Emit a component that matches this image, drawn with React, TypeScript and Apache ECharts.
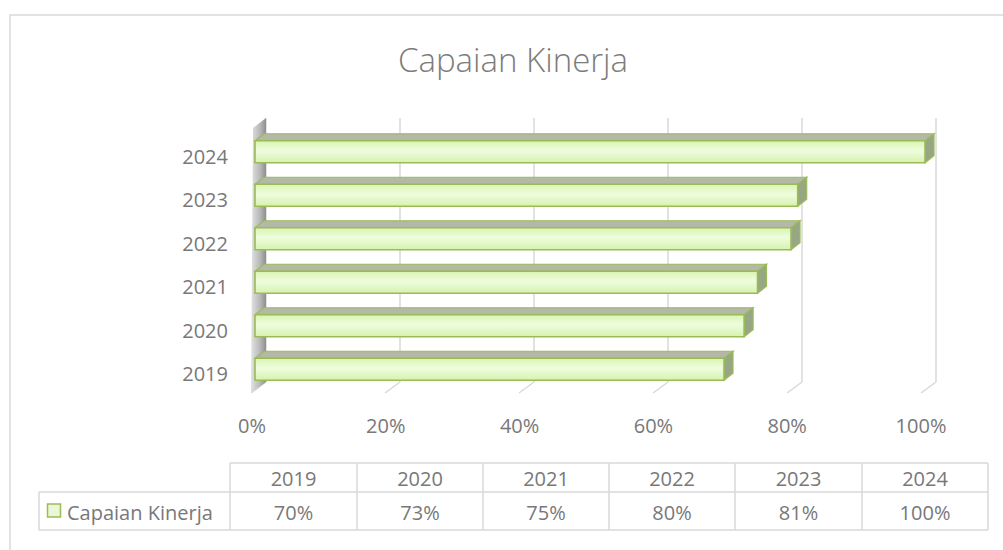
import React, { useEffect, useRef } from "react";
import * as echarts from "echarts";

const title = "Capaian Kinerja";
const seriesName = "Capaian Kinerja";
const years = ["2019", "2020", "2021", "2022", "2023", "2024"];
const values = [70, 73, 75, 80, 81, 100];
const xTicks = [0, 20, 40, 60, 80, 100];

const FONT = "'Open Sans', 'Noto Sans', sans-serif";
const TXT = "#787878";
const GRIDC = "#d9d9d9";
const GREEN = "#9bbb59";

export default function App() {
  const ref = useRef<HTMLDivElement>(null);
  useEffect(() => {
    if (!ref.current) return;
    const chart = echarts.init(ref.current, undefined, { renderer: "svg" });

    // table geometry
    const colX = [230, 357, 483, 609, 735, 862, 988];
    const rowY = [463, 492, 530];
    const tableLeft = 39;
    const g: any[] = [];
    const line = (x1: number, y1: number, x2: number, y2: number) => ({
      type: "line",
      shape: { x1, y1, x2, y2 },
      style: { stroke: GRIDC, lineWidth: 1.5 },
      silent: true,
    });
    g.push({
      type: "rect",
      shape: { x: 10, y: 15, width: 1000, height: 600 },
      style: { fill: "none", stroke: GRIDC, lineWidth: 1.5 },
      silent: true,
      z: -10,
    });
    g.push(line(colX[0], rowY[0], colX[6], rowY[0]));
    g.push(line(tableLeft, rowY[1], colX[6], rowY[1]));
    g.push(line(tableLeft, rowY[2], colX[6], rowY[2]));
    g.push(line(tableLeft, rowY[1], tableLeft, rowY[2]));
    colX.forEach((x) => g.push(line(x, rowY[0], x, rowY[2])));
    years.forEach((y, i) => {
      const cx = (colX[i] + colX[i + 1]) / 2;
      g.push({
        type: "text",
        x: cx,
        y: (rowY[0] + rowY[1]) / 2 + 1,
        style: { text: y, fill: TXT, font: `20px ${FONT}`, align: "center", verticalAlign: "middle" },
      });
      g.push({
        type: "text",
        x: cx,
        y: (rowY[1] + rowY[2]) / 2 + 1,
        style: { text: `${values[i]}%`, fill: TXT, font: `20px ${FONT}`, align: "center", verticalAlign: "middle" },
      });
    });
    g.push({
      type: "rect",
      shape: { x: 47.5, y: 504, width: 13, height: 13 },
      style: { fill: "#eaf6d6", stroke: GREEN, lineWidth: 1.5 },
    });
    g.push({
      type: "text",
      x: 67,
      y: 512,
      style: { text: seriesName, fill: TXT, font: `20px ${FONT}`, align: "left", verticalAlign: "middle" },
    });
    g.push({
      type: "text",
      x: 513,
      y: 59,
      style: { text: title, fill: "#7c7c7c", font: `300 33px ${FONT}`, align: "center", verticalAlign: "middle" },
    });

    const DX = 9, DY = -7;

    const option: any = {
      animation: false,
      grid: [
        { left: 255, right: 78, top: 130, bottom: 159 },
        { left: 266, right: 67, top: 118, bottom: 168 },
        { left: 252, right: 82, top: 380, bottom: 157 },
      ],
      xAxis: [
        { gridIndex: 0, type: "value", min: 0, max: 100, show: false },
        {
          gridIndex: 1, type: "value", min: 0, max: 100, interval: 20,
          axisLine: { show: false }, axisTick: { show: false }, axisLabel: { show: false },
          splitLine: { show: true, lineStyle: { color: GRIDC, width: 1.5 } },
        },
        {
          gridIndex: 2, type: "value", min: 0, max: 100, interval: 20,
          axisLine: { show: false }, axisTick: { show: false }, splitLine: { show: false },
          axisLabel: { formatter: "{value}%", color: TXT, fontFamily: FONT, fontSize: 20, margin: 22 },
        },
      ],
      yAxis: [
        {
          gridIndex: 0, type: "category", data: years,
          axisLine: { show: false }, axisTick: { show: false },
          axisLabel: { color: TXT, fontFamily: FONT, fontSize: 20, margin: 27, verticalAlign: "top", lineHeight: 9 },
        },
        { gridIndex: 1, type: "value", min: 0, max: 1, show: false },
        { gridIndex: 2, type: "value", min: 0, max: 1, show: false },
      ],
      graphic: g,
      series: [
        {
          type: "custom",
          xAxisIndex: 1,
          yAxisIndex: 1,
          z: 2,
          silent: true,
          data: xTicks.map((t) => [t]),
          renderItem: (params: any, api: any) => {
            const p = api.coord([api.value(0), 0]);
            return {
              type: "line",
              shape: { x1: p[0], y1: p[1], x2: p[0] - 15, y2: p[1] + 11 },
              style: { stroke: GRIDC, lineWidth: 1.5 },
            };
          },
        },
        {
          type: "custom",
          xAxisIndex: 1,
          yAxisIndex: 1,
          z: 3,
          silent: true,
          data: [[0]],
          renderItem: (params: any, api: any) => {
            const top = api.coord([0, 1]);
            const bot = api.coord([0, 0]);
            return {
              type: "polygon",
              shape: {
                points: [
                  [top[0], top[1]],
                  [bot[0], bot[1]],
                  [bot[0] - 15, bot[1] + 11],
                  [top[0] - 13, top[1] + 10],
                ],
              },
              style: {
                fill: new echarts.graphic.LinearGradient(0, 0, 1, 0, [
                  { offset: 0, color: "#e2e2e2" },
                  { offset: 0.6, color: "#b8b8b8" },
                  { offset: 1, color: "#8e8e8e" },
                ]),
              },
            };
          },
        },
        {
          name: seriesName,
          type: "custom",
          xAxisIndex: 0,
          yAxisIndex: 0,
          z: 5,
          silent: true,
          encode: { x: 0, y: 1 },
          data: values.map((v, i) => [v, i]),
          renderItem: (params: any, api: any) => {
            const s = api.coord([0, api.value(1)]);
            const e = api.coord([api.value(0), api.value(1)]);
            const h = 11;
            const top = s[1] - h;
            const bot = s[1] + h;
            const sx = s[0];
            const ex = e[0];
            return {
              type: "group",
              children: [
                {
                  type: "polygon",
                  shape: { points: [[sx, top], [sx + DX, top + DY], [ex + DX, top + DY], [ex, top]] },
                  style: { fill: "#b3b9a4", stroke: GREEN, lineWidth: 1.2 },
                },
                {
                  type: "polygon",
                  shape: { points: [[ex, top], [ex + DX, top + DY], [ex + DX, bot + DY], [ex, bot]] },
                  style: { fill: "#98a783", stroke: GREEN, lineWidth: 1.2 },
                },
                {
                  type: "rect",
                  shape: { x: sx, y: top, width: ex - sx, height: bot - top },
                  style: {
                    fill: new echarts.graphic.LinearGradient(0, 0, 0, 1, [
                      { offset: 0, color: "#d9f4b2" },
                      { offset: 0.45, color: "#eefdde" },
                      { offset: 1, color: "#d6f2ae" },
                    ]),
                    stroke: GREEN,
                    lineWidth: 1.6,
                  },
                },
              ],
            };
          },
        },
      ],
    };
    chart.setOption(option);
    return () => chart.dispose();
  }, []);
  return (
    <div
      ref={ref}
      style={{ position: "absolute", left: 0, top: 0, width: 1003, height: 550, background: "#fff" }}
    />
  );
}
